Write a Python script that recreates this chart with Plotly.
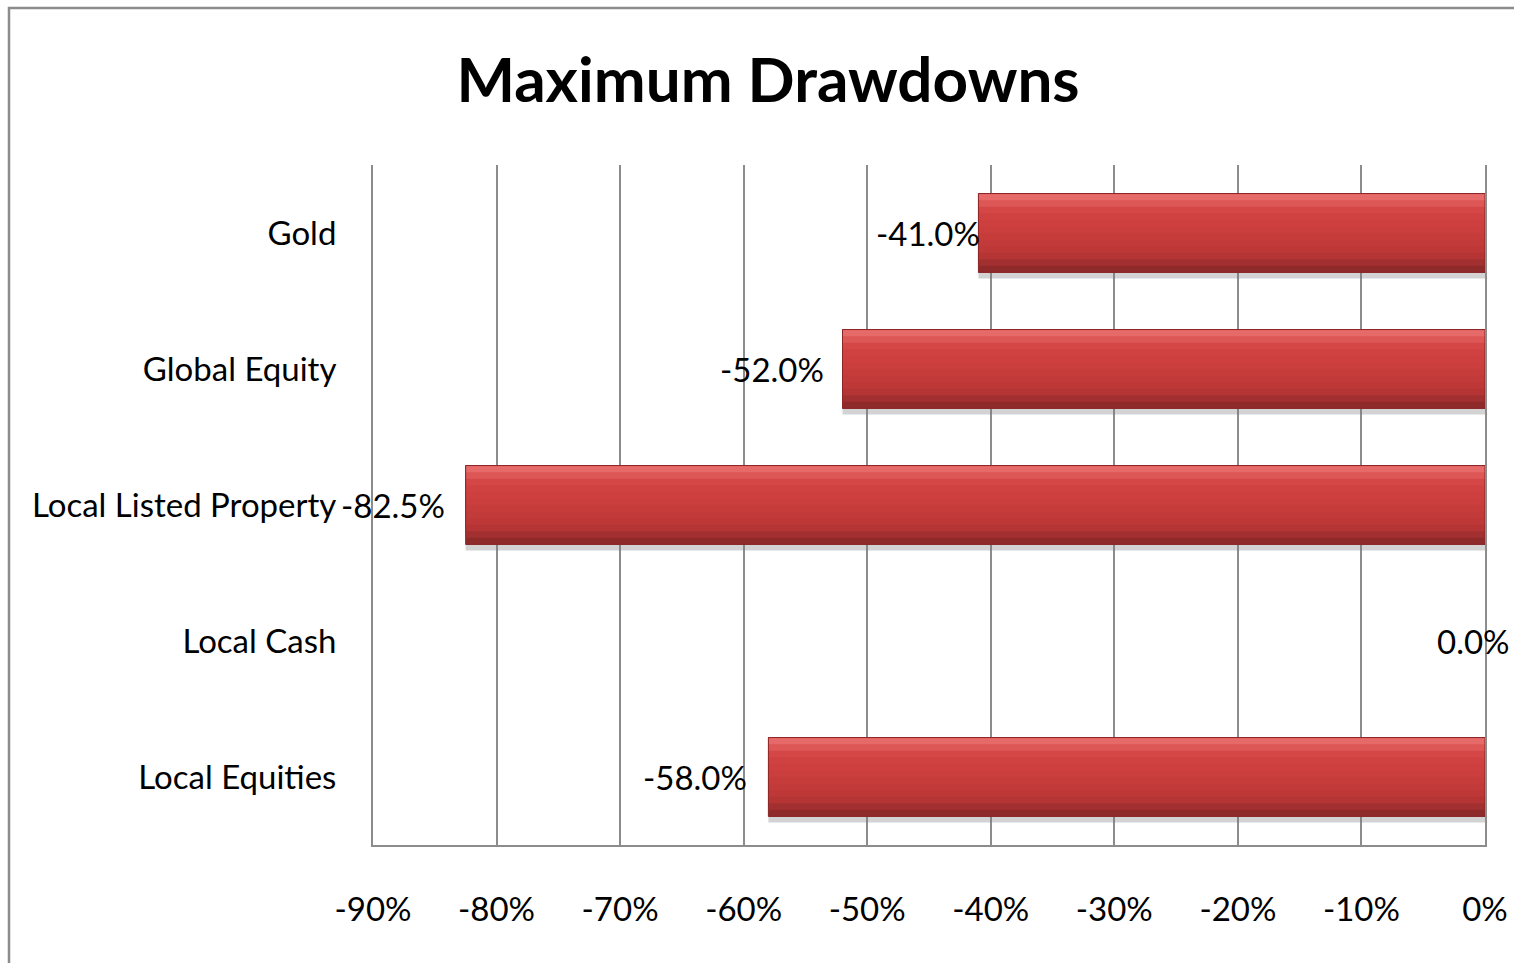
import plotly.graph_objects as go

# Drawdown data (bottom to top on the chart)
categories = ["Local Equities", "Local Cash", "Local Listed Property", "Global Equity", "Gold"]
drawdowns = [-58.0, 0.0, -82.5, -52.0, -41.0]
tick_values = [-90, -80, -70, -60, -50, -40, -30, -20, -10, 0]
tick_labels = ["-90%", "-80%", "-70%", "-60%", "-50%", "-40%", "-30%", "-20%", "-10%", "0%"]

# Label nudges (pixels) so value labels sit just outside the bar ends
label_shift = [-73, -12, -73, -71, -50]

FONT = "Lato"
TEXT_SIZE = 33
BAR_W = 0.58

fig = go.Figure()

# Soft drop shadow under each bar
fig.add_trace(go.Bar(
    y=categories, x=drawdowns, orientation="h",
    width=BAR_W, offset=-BAR_W / 2 - 0.045,
    marker=dict(color="rgba(120,120,120,0.33)", line=dict(width=0)),
    hoverinfo="skip", showlegend=False,
))

# Vertical gradient: overlapping layers, each one covering from its
# lower edge up to the top of the bar (bottom -> top, dark -> light)
strip_colors = [
    "#8e2a2a", "#a33030", "#b53535", "#bd3837", "#c23a39", "#c63c3b",
    "#ca3e3d", "#cd403f", "#d04241", "#d44746", "#dc5756", "#e56a69",
]
n = len(strip_colors)
for i, c in enumerate(strip_colors):
    fig.add_trace(go.Bar(
        y=categories, x=drawdowns, orientation="h",
        width=BAR_W * (n - i) / n, offset=-BAR_W / 2 + i * BAR_W / n,
        marker=dict(color=c, line=dict(width=0)),
        hoverinfo="skip", showlegend=False,
    ))

# Thin dark outline around each bar (none for zero-length bars)
fig.add_trace(go.Bar(
    y=categories, x=drawdowns, orientation="h",
    width=BAR_W, offset=-BAR_W / 2,
    marker=dict(color="rgba(0,0,0,0)",
                line=dict(color="#8a2626", width=[0 if v == 0 else 1 for v in drawdowns])),
    hoverinfo="skip", showlegend=False,
))

# Value labels
for cat, v, dx in zip(categories, drawdowns, label_shift):
    fig.add_annotation(
        x=v, y=cat, text=f"{v:.1f}%", showarrow=False,
        xanchor="center", yanchor="middle", xshift=dx,
        font=dict(family=FONT, size=TEXT_SIZE, color="#000000"),
    )

# Outer chart border
L, R, T, B = 373, 1485, 165, 845
pw, ph = R - L, B - T
fig.add_shape(
    type="rect", xref="paper", yref="paper",
    x0=(9 - L) / pw, x1=(1525 - L) / pw,
    y0=(B - 975) / ph, y1=(B - 8) / ph,
    line=dict(color="#8c8c8c", width=2.5), fillcolor="rgba(0,0,0,0)", layer="below",
)

fig.update_layout(
    width=1514, height=963,
    margin=dict(l=L, r=1514 - R, t=T, b=963 - B),
    paper_bgcolor="white", plot_bgcolor="white",
    barmode="overlay",
    showlegend=False,
    title=dict(
        text="<b>Maximum Drawdowns</b>",
        x=768 / 1514, xanchor="center", xref="container",
        y=1 - 80 / 963, yanchor="middle", yref="container",
        font=dict(family=FONT, size=62, color="#000000"),
    ),
    xaxis=dict(
        range=[-90, 0], tickvals=tick_values, ticktext=tick_labels,
        showgrid=True, gridcolor="#8c8c8c", gridwidth=2,
        zeroline=False, showline=True, linecolor="#8c8c8c", linewidth=2,
        ticks="", ticklabelstandoff=34, automargin=False,
        tickfont=dict(family=FONT, size=TEXT_SIZE, color="#000000"),
        fixedrange=True,
    ),
    yaxis=dict(
        type="category", categoryorder="array", categoryarray=categories,
        range=[-0.5, 4.5],
        showgrid=False, zeroline=False,
        showline=True, mirror=True, linecolor="#8c8c8c", linewidth=2,
        ticks="", ticklabelstandoff=28, automargin=False,
        tickfont=dict(family=FONT, size=TEXT_SIZE, color="#000000"),
        fixedrange=True,
    ),
)

fig.write_html("out.html")
